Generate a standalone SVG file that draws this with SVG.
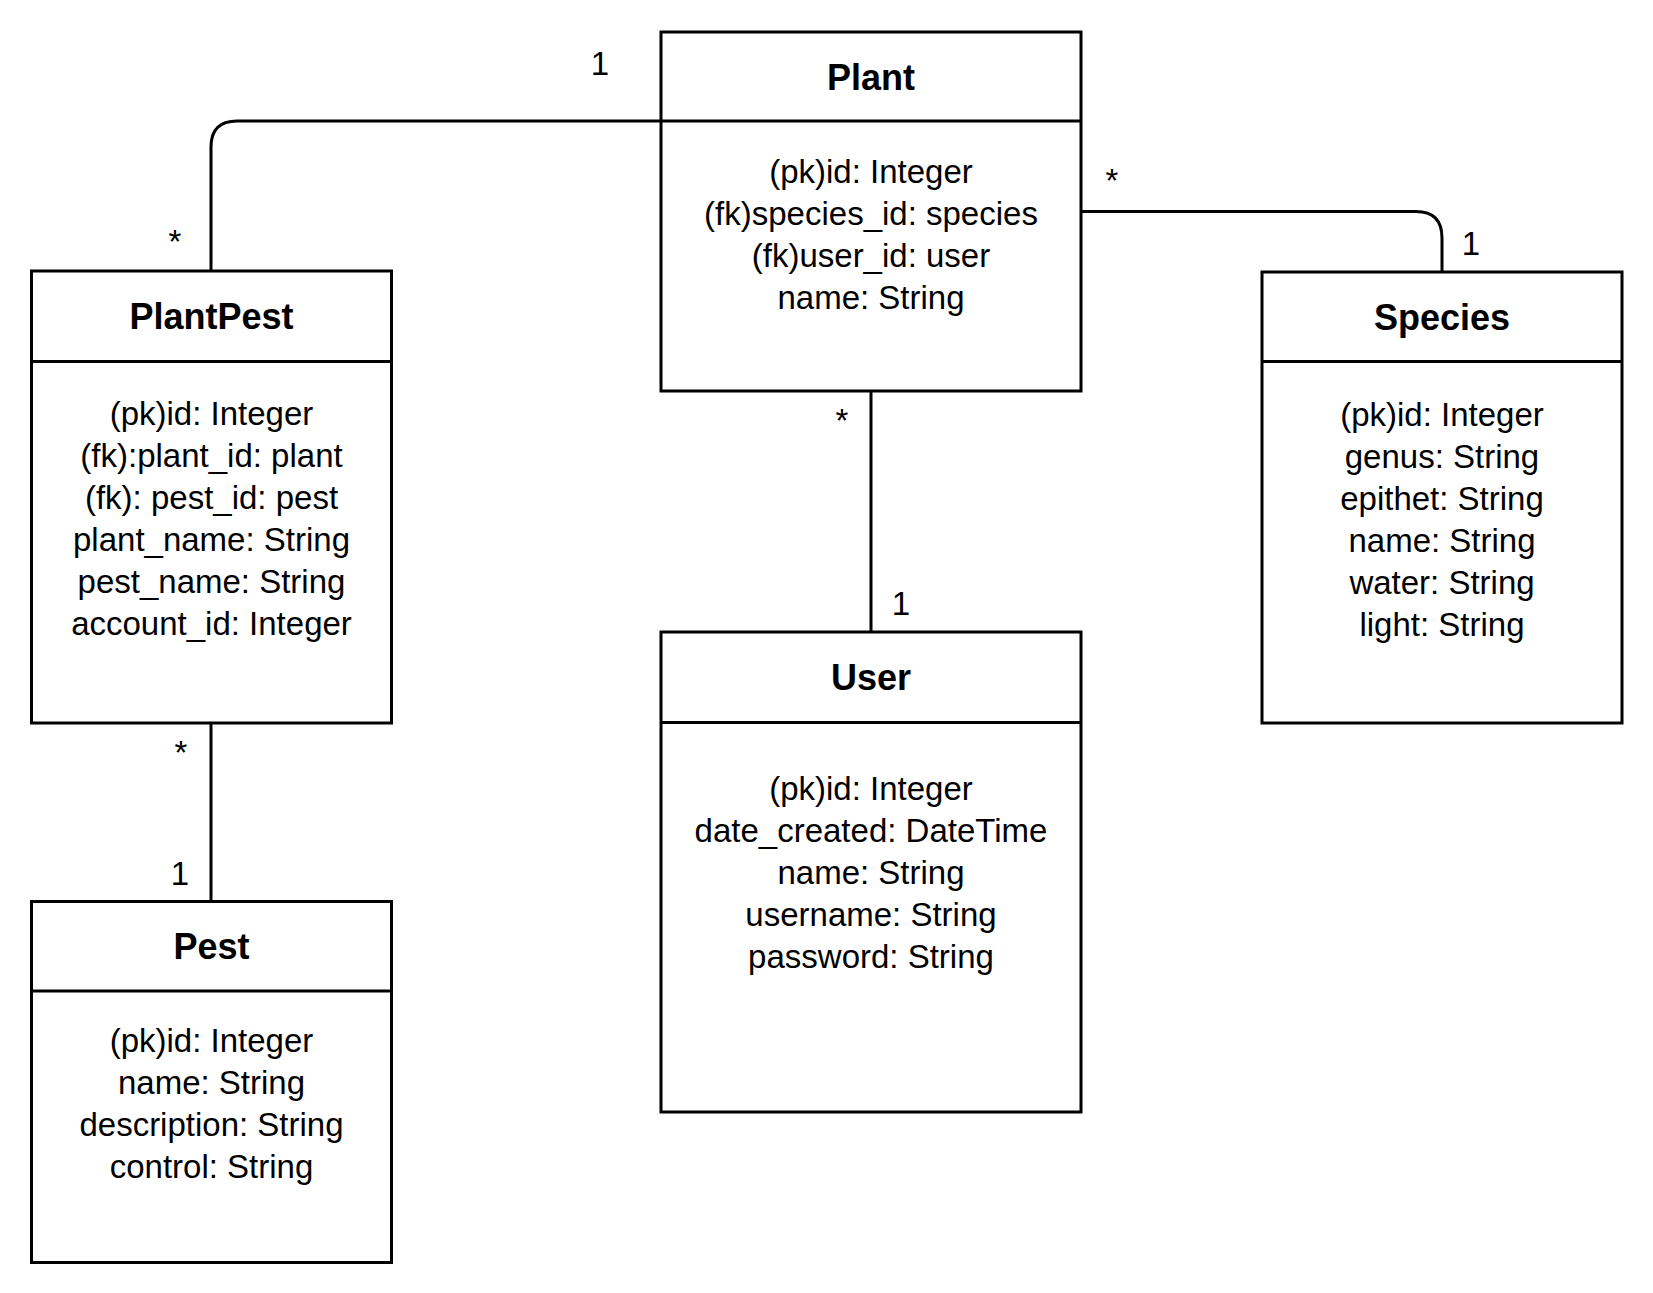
<svg xmlns="http://www.w3.org/2000/svg" width="1653" height="1293" viewBox="0 0 1653 1293">
<style>
.box{fill:#fff;stroke:#000;stroke-width:3}
.div{stroke:#000;stroke-width:3}
.conn{fill:none;stroke:#000;stroke-width:3}
.title{font-family:"Liberation Sans",Arial,sans-serif;font-size:36px;font-weight:bold;text-anchor:middle;fill:#000}
.attr{font-family:"Liberation Sans",Arial,sans-serif;font-size:33px;text-anchor:middle;fill:#000}
.lbl{font-family:"Liberation Sans",Arial,sans-serif;font-size:33px;text-anchor:middle;fill:#000}
</style>
<rect width="1653" height="1293" fill="#fff"/>
<g id="connectors">
<path class="conn" d="M211,271 V147 Q211,121 237,121 H661"/>
<path class="conn" d="M1081,211.5 H1416 Q1442,211.5 1442,238 V272"/>
<path class="conn" d="M871,391 V632"/>
<path class="conn" d="M211,723 V901.5"/>
<text class="lbl" x="175" y="253">*</text>
<text class="lbl" x="600" y="75">1</text>
<text class="lbl" x="1112" y="192">*</text>
<text class="lbl" x="1471" y="255">1</text>
<text class="lbl" x="842" y="432">*</text>
<text class="lbl" x="901" y="615">1</text>
<text class="lbl" x="181" y="764">*</text>
<text class="lbl" x="180" y="885">1</text>
</g>
<g id="Plant">
<rect class="box" x="661" y="32" width="420" height="359"/>
<line class="div" x1="661" y1="121" x2="1081" y2="121"/>
<text class="title" x="871" y="90">Plant</text>
<text class="attr" x="871" y="183">(pk)id: Integer</text>
<text class="attr" x="871" y="225">(fk)species_id: species</text>
<text class="attr" x="871" y="267">(fk)user_id: user</text>
<text class="attr" x="871" y="309">name: String</text>
</g>
<g id="PlantPest">
<rect class="box" x="31.5" y="271" width="360" height="452"/>
<line class="div" x1="31.5" y1="361.5" x2="391.5" y2="361.5"/>
<text class="title" x="211.5" y="329">PlantPest</text>
<text class="attr" x="211.5" y="425">(pk)id: Integer</text>
<text class="attr" x="211.5" y="467">(fk):plant_id: plant</text>
<text class="attr" x="211.5" y="509">(fk): pest_id: pest</text>
<text class="attr" x="211.5" y="551">plant_name: String</text>
<text class="attr" x="211.5" y="593">pest_name: String</text>
<text class="attr" x="211.5" y="635">account_id: Integer</text>
</g>
<g id="Species">
<rect class="box" x="1262" y="272" width="360" height="451"/>
<line class="div" x1="1262" y1="361.5" x2="1622" y2="361.5"/>
<text class="title" x="1442" y="330">Species</text>
<text class="attr" x="1442" y="426">(pk)id: Integer</text>
<text class="attr" x="1442" y="468">genus: String</text>
<text class="attr" x="1442" y="510">epithet: String</text>
<text class="attr" x="1442" y="552">name: String</text>
<text class="attr" x="1442" y="594">water: String</text>
<text class="attr" x="1442" y="636">light: String</text>
</g>
<g id="User">
<rect class="box" x="661" y="632" width="420" height="480"/>
<line class="div" x1="661" y1="722.5" x2="1081" y2="722.5"/>
<text class="title" x="871" y="690">User</text>
<text class="attr" x="871" y="800">(pk)id: Integer</text>
<text class="attr" x="871" y="842">date_created: DateTime</text>
<text class="attr" x="871" y="884">name: String</text>
<text class="attr" x="871" y="926">username: String</text>
<text class="attr" x="871" y="968">password: String</text>
</g>
<g id="Pest">
<rect class="box" x="31.5" y="901.5" width="360" height="361"/>
<line class="div" x1="31.5" y1="991" x2="391.5" y2="991"/>
<text class="title" x="211.5" y="959">Pest</text>
<text class="attr" x="211.5" y="1052">(pk)id: Integer</text>
<text class="attr" x="211.5" y="1094">name: String</text>
<text class="attr" x="211.5" y="1136">description: String</text>
<text class="attr" x="211.5" y="1178">control: String</text>
</g>
</svg>
